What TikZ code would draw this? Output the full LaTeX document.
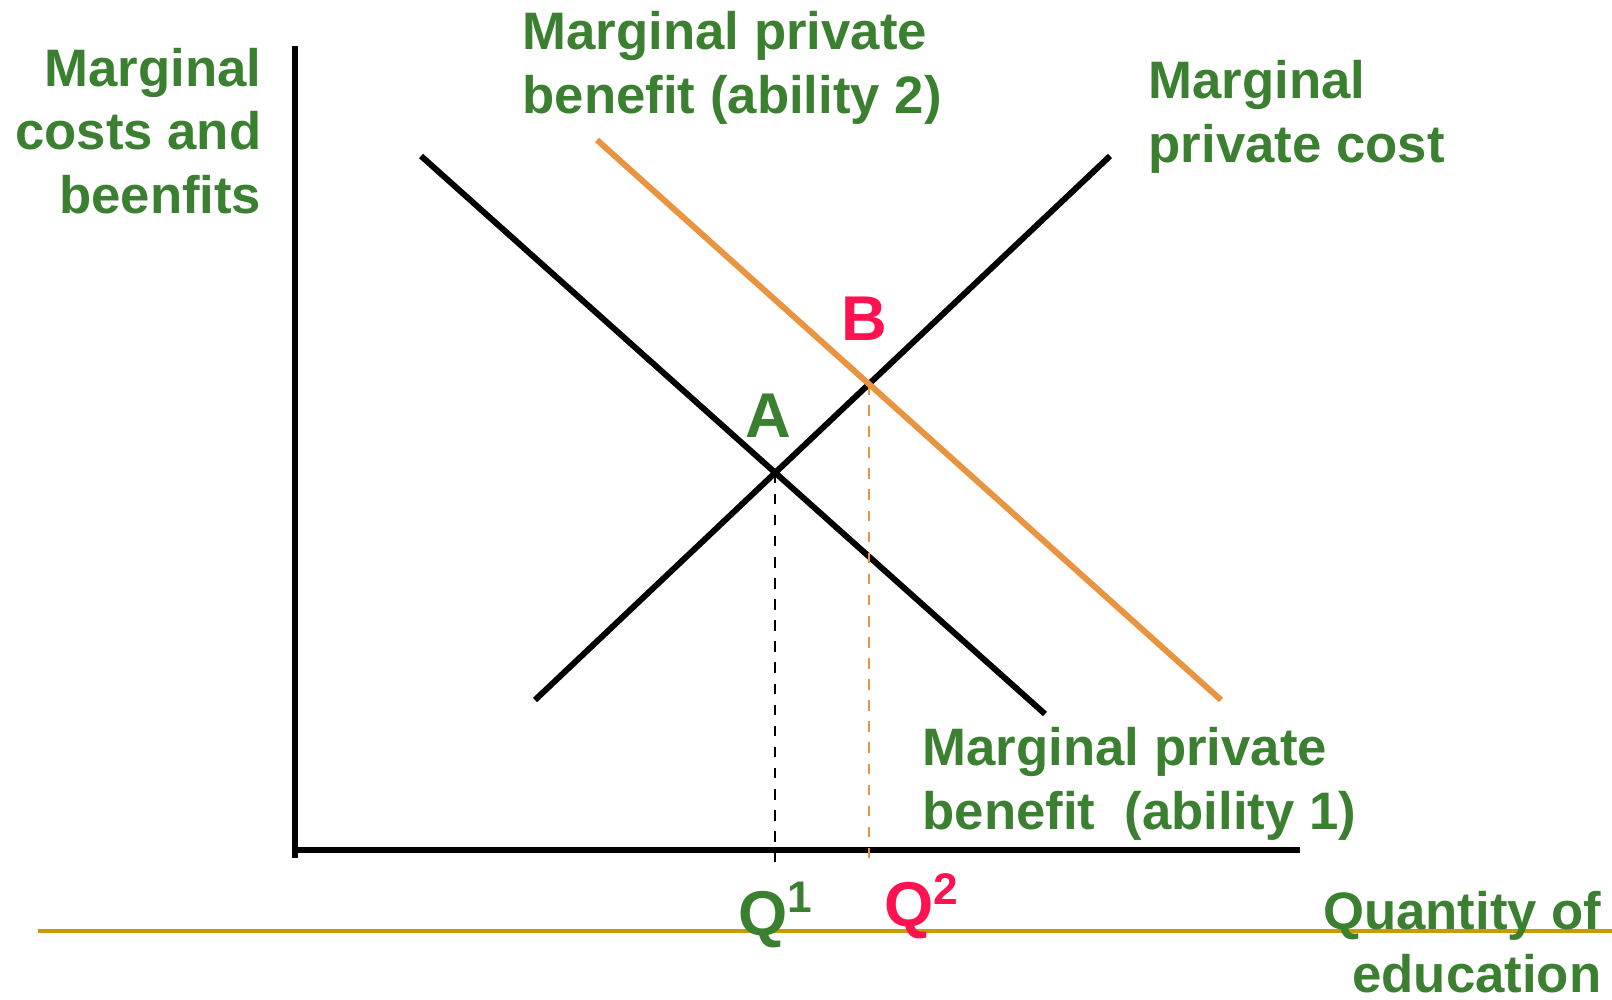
\documentclass[tikz,border=0pt]{standalone}
\usepackage{fontspec}
\setmainfont{Liberation Sans}
\usepackage{tikz}

\definecolor{labelgreen}{RGB}{59,128,48}
\definecolor{pointred}{RGB}{255,18,80}
\definecolor{curveorange}{RGB}{233,148,64}
\definecolor{rulegold}{RGB}{204,153,0}

\tikzset{
    lbl/.style={labelgreen, font=\fontsize{15}{18.1}\selectfont\bfseries, inner sep=0pt},
    ptlbl/.style={font=\fontsize{18}{21}\selectfont\bfseries, inner sep=0pt},
    curve/.style={line width=1.7pt},
    guide/.style={dashed, line width=0.5pt}
}

\begin{document}
\begin{tikzpicture}
    \useasboundingbox (0,0) rectangle (16.12,9.99);

    % Rule under the picture
    \draw[rulegold, line width=1.1pt] (0.38,0.68) -- (16.12,0.68);

    % Axes
    \coordinate (origin) at (2.95,1.49);
    \coordinate (ytop) at (2.95,9.53);
    \coordinate (xend) at (13.00,1.49);
    \draw[line width=1.9pt] (ytop) -- (2.95,1.41);
    \draw[line width=1.9pt] (origin) -- (xend);

    % Curves
    \coordinate (mpb1 start) at (4.21,8.43);
    \coordinate (mpb1 end) at (10.45,2.85);
    \coordinate (mpc start) at (5.35,2.99);
    \coordinate (mpc end) at (11.10,8.43);
    \coordinate (mpb2 start) at (5.97,8.59);
    \coordinate (mpb2 end) at (12.21,2.99);

    \draw[curve] (mpb1 start) -- (mpb1 end);
    \draw[curve] (mpc start) -- (mpc end);
    \draw[curve, curveorange] (mpb2 start) -- (mpb2 end);

    % Equilibria
    \coordinate (A) at (intersection of mpb1 start--mpb1 end and mpc start--mpc end);
    \coordinate (B) at (intersection of mpb2 start--mpb2 end and mpc start--mpc end);
    \coordinate (Q1) at (A |- 0,1.37);
    \coordinate (Q2) at (B |- 0,1.37);
    \draw[guide] (A) -- (Q1);
    \draw[guide, curveorange] (B) -- (Q2);

    % Labels
    \node[lbl, anchor=east, align=right] (ylabel) at (2.62,8.68) {Marginal\\costs and\\beenfits};
    \node[lbl, anchor=west, align=left] (mpb2 label) at (5.22,9.31) {Marginal private\\benefit (ability 2)};
    \node[lbl, anchor=west, align=left] (mpc label) at (11.48,8.82) {Marginal\\private cost};
    \node[lbl, anchor=west, align=left] (mpb1 label) at (9.22,2.15) {Marginal private\\benefit\ \ (ability 1)};
    \node[lbl, anchor=east, align=right] (xlabel) at (16.02,0.57) {Quantity of\\education};

    \node[ptlbl, labelgreen] (A label) at (7.68,5.83) {A};
    \node[ptlbl, pointred] (B label) at (8.64,6.80) {B};
    \node[ptlbl, labelgreen, anchor=west] (Q1 label) at (7.38,0.84) {Q\textsuperscript{1}};
    \node[ptlbl, pointred, anchor=west] (Q2 label) at (8.84,0.93) {Q\textsuperscript{2}};
\end{tikzpicture}
\end{document}
